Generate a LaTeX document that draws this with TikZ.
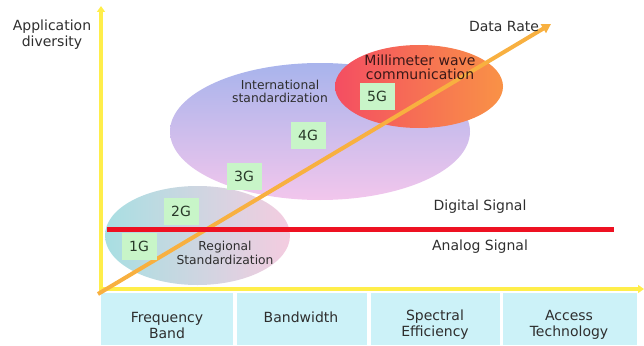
\documentclass[tikz,border=0pt]{standalone}
\usepackage{fontspec}
\setmainfont{DejaVu Sans}
\usetikzlibrary{shapes.geometric,arrows.meta}
\definecolor{txt}{HTML}{2E2E2E}
\definecolor{gentxt}{HTML}{283828}
\definecolor{axisyellow}{HTML}{FFEE4A}
\definecolor{rateorange}{HTML}{F8B040}
\definecolor{splitred}{HTML}{EE1122}
\definecolor{gengreen}{HTML}{C8F5C8}
\definecolor{featcyan}{HTML}{CCF2F8}
\definecolor{regteal}{HTML}{A8DFE2}
\definecolor{regpink}{HTML}{F4CCE0}
\definecolor{intblue}{HTML}{A8B4EC}
\definecolor{intpink}{HTML}{F2C6EC}
\definecolor{mmred}{HTML}{F44E62}
\definecolor{mmorange}{HTML}{F99246}
\definecolor{mmtext}{HTML}{3A1818}
\tikzset{
  lbl/.style={text=txt, font=\fontsize{14}{16}\selectfont, align=center, inner sep=0pt},
  zonecaption/.style={text=txt, font=\fontsize{12.3}{13.5}\selectfont, align=center, inner sep=0pt},
  gen/.style={fill=gengreen, text=gentxt, font=\fontsize{14}{16}\selectfont,
              minimum width=35pt, minimum height=27pt, inner sep=0pt},
  feat/.style={fill=featcyan, minimum height=52pt, inner sep=0pt, anchor=north west},
  zone/.style={ellipse, inner sep=0pt},
  axisline/.style={axisyellow, line width=3.2pt, -{Triangle[length=6pt,width=8pt]}},
}
\begin{document}
\begin{tikzpicture}[x=1pt,y=-1pt]
\useasboundingbox (0,0) rectangle (644,345);

% regions
\node[zone, left color=regteal, right color=regpink,
      minimum width=185pt, minimum height=99pt] (regional) at (197.5,235.5) {};
\node[zone, top color=intblue, bottom color=intpink,
      minimum width=300pt, minimum height=137pt] (intl) at (320,131.5) {};
\node[zone, left color=mmred, right color=mmorange,
      minimum width=168pt, minimum height=83pt] (mmwave) at (419,86.5) {};

% feature boxes along the bottom
\node[feat, minimum width=132pt] (fband) at (101,293) {};
\node[feat, minimum width=130pt] (bwidth) at (237,293) {};
\node[feat, minimum width=129pt] (spec) at (371,293) {};
\node[feat, minimum width=134pt] (access) at (503,293) {};
\node[lbl] (fbandtxt) at (167,325) {Frequency\\Band};
\node[lbl] (bwidthtxt) at (301,317) {Bandwidth};
\node[lbl] (spectxt) at (435,325) {Spectral\\Efficiency};
\node[lbl] (accesstxt) at (569,325) {Access\\Technology};

% axes
\coordinate (origin) at (101,289);
\coordinate (ytip) at (101,6);
\coordinate (xtip) at (644,289);
\draw[axisline] ([yshift=2pt]origin) -- (ytip);
\draw[axisline] ([xshift=-2pt]origin) -- (xtip);
\node[lbl] (yaxis) at (52,35) {Application\\diversity};

% data-rate trend
\coordinate (rstart) at (98,294);
\coordinate (rend) at (551,24);
\draw[rateorange, line width=4pt, -{Triangle[length=9pt,width=10pt]}] (rstart) -- (rend);
\node[lbl] (ratetxt) at (504,26) {Data Rate};

% analog / digital split
\coordinate (splitl) at (107,229.5);
\coordinate (splitr) at (614,229.5);
\draw[splitred, line width=5.5pt] (splitl) -- (splitr);
\node[lbl] (digital) at (480,207) {Digital Signal};
\node[lbl] (analog) at (480,247) {Analog Signal};

% region captions
\node[zonecaption] (regtxt) at (225,253) {Regional\\Standardization};
\node[zonecaption] (inttxt) at (280,91.5) {International\\standardization};
\node[lbl, text=mmtext, font=\fontsize{14}{14}\selectfont] (mmtxt) at (420,67.5) {Millimeter wave\\communication};

% generations
\node[gen] (g1) at (139,246) {1G};
\node[gen] (g2) at (181,211) {2G};
\node[gen] (g3) at (244,176) {3G};
\node[gen] (g4) at (308,135) {4G};
\node[gen] (g5) at (377,96) {5G};
\end{tikzpicture}
\end{document}
